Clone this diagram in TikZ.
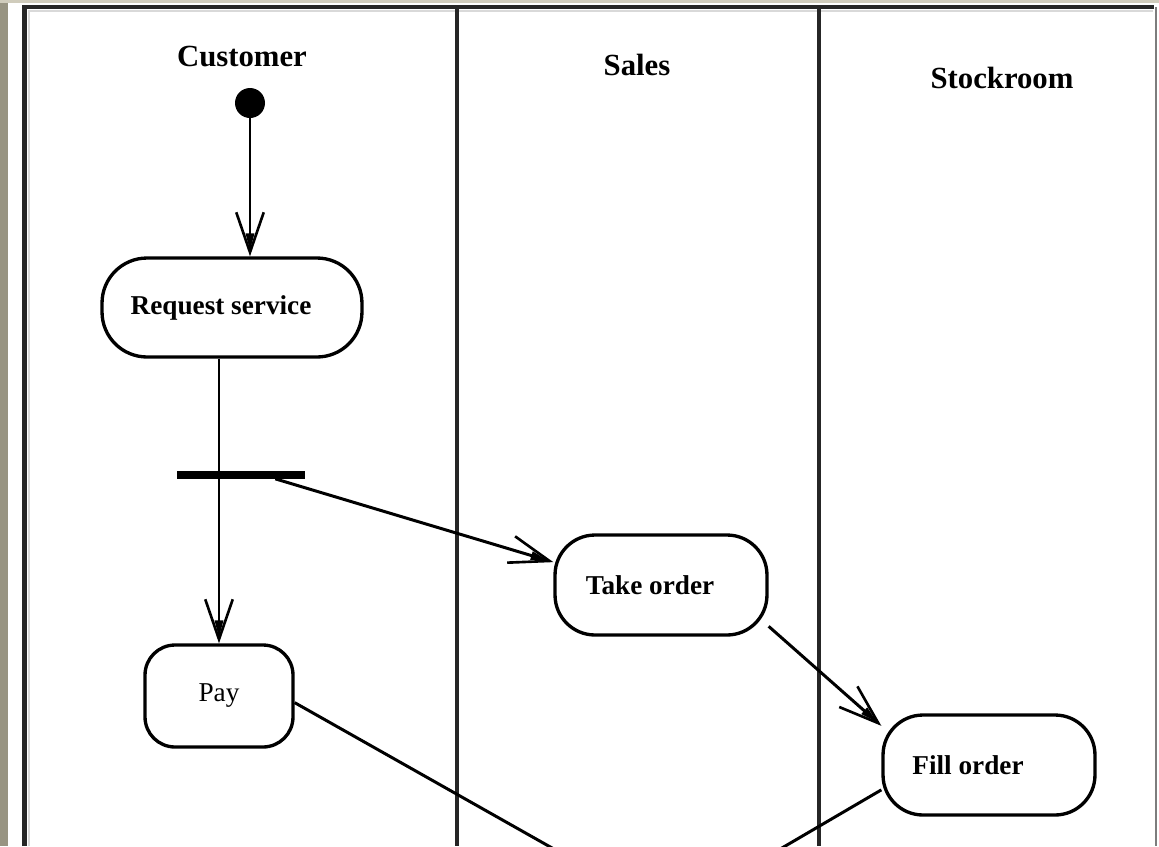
\documentclass[tikz,border=0pt]{standalone}
\usepackage{fontspec}
\setmainfont{Liberation Serif}
\usetikzlibrary{arrows.meta}

\definecolor{deskgray}{RGB}{152,148,130}
\definecolor{desklight}{RGB}{208,204,188}
\definecolor{framegray}{RGB}{125,125,125}

\begin{document}
\begin{tikzpicture}
[x=0.02cm, y=-0.02cm,
 activity/.style={draw, line width=1.9pt, inner sep=0pt,
                  font=\fontsize{15.5}{18}\selectfont\bfseries},
 header/.style={font=\fontsize{17.5}{20}\selectfont\bfseries},
 lane/.style={line width=2.6pt, black!85},
 flow/.style={line width=1.7pt},
 uml/.style={-{Triangle[length=0.35cm,width=0.16cm,sep=-0.8cm]
               Straight Barb[length=0.8cm,width=0.55cm,line width=1.5pt]}},
 textleft/.style={execute at end node={\hspace*{#1}}}]

\useasboundingbox (0,0) rectangle (1159,846);
\clip (0,0) rectangle (1159,846);

% desk and frame
\fill[deskgray] (0,0) rectangle (8,846);
\fill[desklight] (0,0) rectangle (1159,3);
\draw[black!15, line width=1.4pt] (29,846) -- (29,11) -- (1153,11);
\draw[lane] (24.5,846) -- (24.5,7) -- (1154,7);
\draw[framegray, line width=1.6pt] (1156,7) -- (1156,846);
\draw[lane] (457,7) -- (457,846);
\draw[lane] (819,7) -- (819,846);

% swimlane names
\node[header] (customer) at (242,57) {Customer};
\node[header] (sales) at (637,65) {Sales};
\node[header] (stockroom) at (1002,78) {Stockroom};

% activities
\node[circle, fill, minimum size=0.6cm, inner sep=0pt] (start) at (250,103) {};
\node[activity, rounded corners=0.9cm, minimum width=5.2cm, minimum height=1.98cm,
      textleft=0.44cm] (req) at (232,307.5) {Request service};
\node[fill, minimum width=2.56cm, minimum height=0.16cm, inner sep=0pt] (fork) at (241,474.5) {};
\node[activity, rounded corners=0.8cm, minimum width=4.24cm, minimum height=2cm,
      textleft=0.44cm] (take) at (661,585) {Take order};
\node[activity, rounded corners=0.6cm, minimum width=2.96cm, minimum height=2.04cm,
      font=\fontsize{15.5}{18}\selectfont\mdseries] (pay) at (219,696) {Pay};
\node[activity, rounded corners=0.8cm, minimum width=4.24cm, minimum height=2cm,
      textleft=0.84cm] (fill) at (989,765) {Fill order};

\coordinate (forkout) at ([xshift=-0.6cm]fork.south east);
\coordinate (join) at (669,914);

% flows
\draw[flow, uml] (start) -- (start |- req.north);
\draw[flow] (req.south -| pay.north) -- (fork.center -| pay.north);
\draw[flow, uml] (fork.center -| pay.north) -- (pay.north);
\draw[flow, uml] (forkout) -- (take.168);
\draw[flow, uml] (take.-21) -- (fill.160);
\draw[flow] (pay.-5) -- (join);
\draw[flow] (fill.193) -- (join);

\end{tikzpicture}
\end{document}
